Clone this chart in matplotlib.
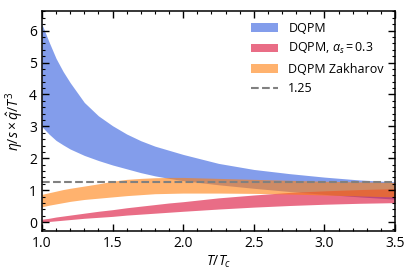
import numpy as np
import matplotlib
matplotlib.use('Agg')
import matplotlib.pyplot as plt

plt.rcParams['font.family'] = ['Open Sans', 'DejaVu Sans']
plt.rcParams['mathtext.fontset'] = 'custom'
plt.rcParams['mathtext.rm'] = 'Open Sans'
plt.rcParams['mathtext.it'] = 'Open Sans:italic'

# T/Tc grid
T = [1.0, 1.05, 1.1, 1.15, 1.2, 1.3, 1.4, 1.5, 1.6, 1.7, 1.8, 1.9, 2.0,
     2.25, 2.5, 2.75, 3.0, 3.25, 3.5]

# DQPM band
dqpm_hi = [6.2, 5.65, 5.13, 4.72, 4.37, 3.75, 3.33, 3.02, 2.76, 2.55, 2.38, 2.25, 2.12,
           1.84, 1.65, 1.52, 1.41, 1.32, 1.26]
dqpm_lo = [2.99, 2.76, 2.56, 2.42, 2.29, 2.09, 1.93, 1.79, 1.67, 1.55, 1.45, 1.37, 1.3,
           1.17, 1.06, 0.96, 0.87, 0.79, 0.72]

# DQPM, alpha_s = 0.3
as03_hi = [0.09, 0.12, 0.16, 0.19, 0.22, 0.28, 0.34, 0.39, 0.45, 0.5, 0.55, 0.6, 0.64,
           0.76, 0.85, 0.93, 0.98, 1.02, 1.05]
as03_lo = [0.0, 0.02, 0.04, 0.06, 0.08, 0.12, 0.15, 0.18, 0.22, 0.25, 0.28, 0.31, 0.34,
           0.41, 0.47, 0.52, 0.56, 0.59, 0.61]

# DQPM Zakharov
zak_hi = [0.87, 0.92, 0.97, 1.02, 1.06, 1.13, 1.2, 1.28, 1.34, 1.37, 1.39, 1.4, 1.4,
          1.37, 1.34, 1.31, 1.28, 1.26, 1.24]
zak_lo = [0.48, 0.53, 0.57, 0.61, 0.65, 0.71, 0.75, 0.79, 0.83, 0.86, 0.89, 0.9, 0.91,
          0.91, 0.9, 0.88, 0.85, 0.82, 0.79]

ref_value = 1.25

fig = plt.figure(figsize=(4.15, 2.77), dpi=100)
ax = fig.add_axes([0.101, 0.167, 0.851, 0.794])

ax.fill_between(T, dqpm_lo, dqpm_hi, color='royalblue', alpha=0.65, lw=0, label='DQPM')
ax.fill_between(T, as03_lo, as03_hi, color='crimson', alpha=0.62, lw=0,
                label=r'DQPM, $\alpha_s = 0.3$')
ax.fill_between(T, zak_lo, zak_hi, color='tab:orange', alpha=0.6, lw=0, label='DQPM Zakharov')
ax.axhline(ref_value, color='gray', ls='--', lw=1.5, label='1.25')

ax.set_xlim(1.0, 3.5)
ax.set_ylim(-0.27, 6.62)
ax.set_xticks([1.0, 1.5, 2.0, 2.5, 3.0, 3.5])
ax.set_yticks([0, 1, 2, 3, 4, 5, 6])
ax.xaxis.set_minor_locator(matplotlib.ticker.MultipleLocator(0.1))
ax.yaxis.set_minor_locator(matplotlib.ticker.MultipleLocator(0.2))
ax.tick_params(which='both', direction='in', top=True, right=True, labelsize=10)
ax.tick_params(which='major', length=5, width=1)
ax.tick_params(which='minor', length=2.5, width=0.8)
for s in ax.spines.values():
    s.set_linewidth(1.1)

ax.set_xlabel(r'$T/T_c$', fontsize=10, labelpad=2)
ax.set_ylabel(r'$\eta/s \times \hat{q}/T^3$', fontsize=10, labelpad=2)

ax.legend(loc='upper right', frameon=False, fontsize=9, handlelength=2.2,
          borderaxespad=0.5, labelspacing=0.5)

fig.savefig('out.png', dpi=100)
